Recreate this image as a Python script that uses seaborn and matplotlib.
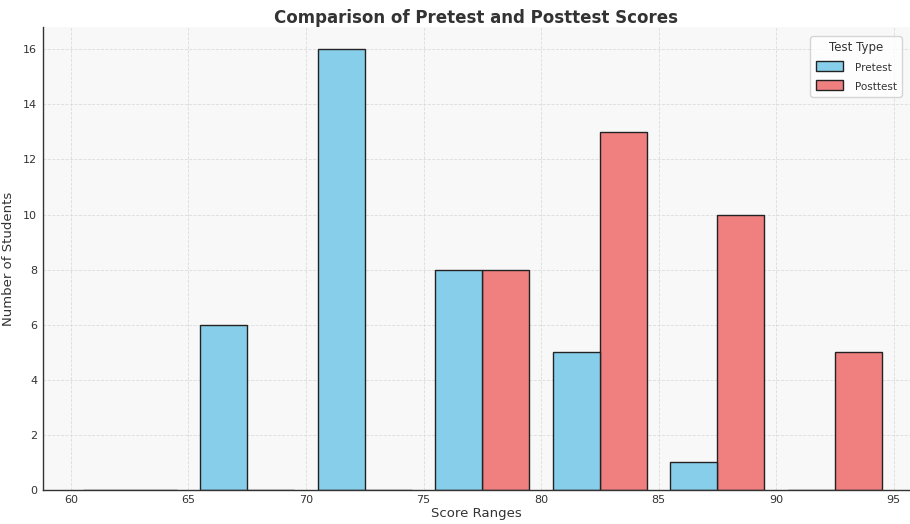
import numpy as np
import pandas as pd
import matplotlib
matplotlib.use("Agg")
import matplotlib.pyplot as plt
import seaborn as sns

# bin edges and counts
bin_edges = [60, 65, 70, 75, 80, 85, 90, 95]
bin_mids = [62.5, 67.5, 72.5, 77.5, 82.5, 87.5, 92.5]
pretest_counts = [0, 6, 16, 8, 5, 1, 0]
posttest_counts = [0, 0, 0, 8, 13, 10, 5]
test_types = ["Pretest", "Posttest"]
palette = {"Pretest": "skyblue", "Posttest": "lightcoral"}

df = pd.DataFrame({
    "Score": bin_mids * 2,
    "Count": pretest_counts + posttest_counts,
    "Test Type": ["Pretest"] * len(bin_mids) + ["Posttest"] * len(bin_mids),
})

sns.set_style("whitegrid")
plt.rcParams["text.color"] = "#333333"
plt.rcParams["axes.labelcolor"] = "#333333"
plt.rcParams["xtick.color"] = "#333333"
plt.rcParams["ytick.color"] = "#333333"

fig, ax = plt.subplots(figsize=(9.1, 5.24), dpi=100)
fig.subplots_adjust(left=0.047, right=1.0, top=0.948, bottom=0.065)
ax.set_facecolor("#f8f8f8")

sns.histplot(data=df, x="Score", weights="Count", hue="Test Type",
             hue_order=test_types, bins=bin_edges, multiple="dodge",
             shrink=0.8, palette=palette, alpha=1, edgecolor="#222222",
             linewidth=1, ax=ax)

ax.grid(True, linestyle="--", color="#dcdcdc", linewidth=0.6)
ax.set_axisbelow(True)
for s in ["top", "right"]:
    ax.spines[s].set_visible(False)
for s in ["left", "bottom"]:
    ax.spines[s].set_color("#333333")
    ax.spines[s].set_linewidth(1)

ax.set_xlim(58.8, 95.7)
ax.set_ylim(0, 16.8)
ax.set_xticks([60, 65, 70, 75, 80, 85, 90, 95])
ax.set_yticks(range(0, 17, 2))
ax.tick_params(labelsize=8, length=2, width=0.6, pad=2, color="#999999")
ax.set_xlabel("Score Ranges", fontsize=9.5, labelpad=1)
ax.set_ylabel("Number of Students", fontsize=9.5, labelpad=6)
ax.set_title("Comparison of Pretest and Posttest Scores", fontsize=12,
             fontweight="bold", pad=3)

leg = ax.get_legend()
leg.set_title("Test Type", prop={"size": 8.5})
for t in leg.get_texts():
    t.set_fontsize(7.5)
for h in leg.legend_handles:
    h.set_edgecolor("#222222")
leg._legend_box.align = "center"
leg.handlelength = 1.6
leg.handletextpad = 0.6
leg.labelspacing = 0.4
leg.borderpad = 0.3
leg.set_bbox_to_anchor((0.999, 0.945), transform=fig.transFigure)
leg._loc = 1

fig.savefig("out.png", dpi=100)
